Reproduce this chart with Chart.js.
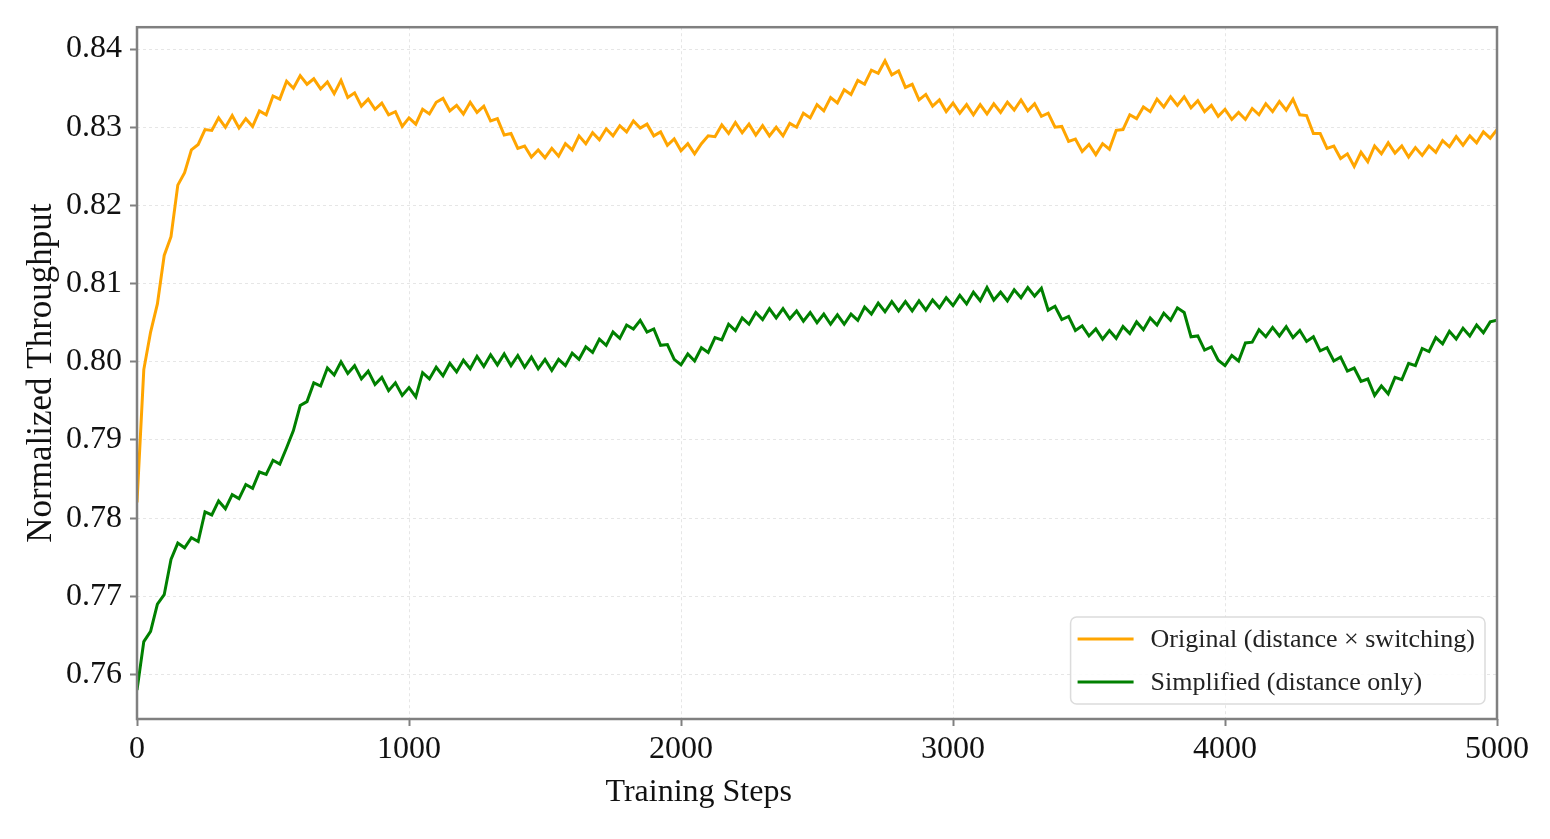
<!DOCTYPE html>
<html>
<head>
<meta charset="utf-8">
<title>Normalized Throughput vs Training Steps</title>
<script src="https://cdn.jsdelivr.net/npm/chart.js@4.4.1/dist/chart.umd.min.js"></script>
<style>
  html, body { margin: 0; padding: 0; background: #ffffff; }
  canvas { display: block; }
</style>
</head>
<body>
<canvas id="throughputChart" width="1550" height="839"></canvas>
<script>
// sampling interval of the training curves (steps)
const STEP = 25;

// Original reward (distance x switching), one value every 25 steps from 0 to 5000
const originalValues = [
  0.7820, 0.7990, 0.8038, 0.8074, 0.8136, 0.8160, 0.8226, 0.8242, 0.8271, 0.8278,
  0.8297, 0.8296, 0.8312, 0.8300, 0.8315, 0.8299, 0.8311, 0.8301, 0.8321, 0.8316,
  0.8340, 0.8336, 0.8359, 0.8350, 0.8366, 0.8355, 0.8362, 0.8349, 0.8358, 0.8343,
  0.8360, 0.8338, 0.8344, 0.8327, 0.8336, 0.8323, 0.8331, 0.8316, 0.8320, 0.8301,
  0.8312, 0.8304, 0.8323, 0.8317, 0.8332, 0.8337, 0.8321, 0.8328, 0.8317, 0.8332,
  0.8319, 0.8327, 0.8308, 0.8311, 0.8290, 0.8292, 0.8273, 0.8276, 0.8262, 0.8271,
  0.8261, 0.8273, 0.8263, 0.8279, 0.8271, 0.8289, 0.8279, 0.8293, 0.8284, 0.8298,
  0.8289, 0.8302, 0.8294, 0.8308, 0.8299, 0.8304, 0.8289, 0.8294, 0.8277, 0.8285,
  0.8270, 0.8279, 0.8266, 0.8279, 0.8289, 0.8288, 0.8303, 0.8292, 0.8306, 0.8293,
  0.8304, 0.8290, 0.8302, 0.8289, 0.8300, 0.8289, 0.8305, 0.8300, 0.8318, 0.8312,
  0.8329, 0.8321, 0.8338, 0.8331, 0.8348, 0.8342, 0.8360, 0.8355, 0.8373, 0.8369,
  0.8385, 0.8367, 0.8372, 0.8351, 0.8355, 0.8335, 0.8342, 0.8327, 0.8335, 0.8320,
  0.8331, 0.8318, 0.8329, 0.8316, 0.8329, 0.8317, 0.8330, 0.8319, 0.8332, 0.8322,
  0.8335, 0.8321, 0.8330, 0.8314, 0.8318, 0.8300, 0.8301, 0.8282, 0.8285, 0.8269,
  0.8278, 0.8265, 0.8279, 0.8272, 0.8296, 0.8297, 0.8316, 0.8311, 0.8326, 0.8320,
  0.8336, 0.8326, 0.8339, 0.8328, 0.8339, 0.8325, 0.8334, 0.8320, 0.8328, 0.8314,
  0.8323, 0.8310, 0.8319, 0.8310, 0.8324, 0.8316, 0.8330, 0.8320, 0.8333, 0.8322,
  0.8336, 0.8316, 0.8315, 0.8292, 0.8292, 0.8273, 0.8276, 0.8260, 0.8266, 0.8250,
  0.8268, 0.8256, 0.8276, 0.8266, 0.8280, 0.8267, 0.8276, 0.8262, 0.8274, 0.8264,
  0.8276, 0.8268, 0.8283, 0.8275, 0.8288, 0.8277, 0.8289, 0.8280, 0.8294, 0.8286,
  0.8297
];

// Simplified reward (distance only), same sampling
const simplifiedValues = [
  0.7580, 0.7642, 0.7655, 0.7690, 0.7702, 0.7747, 0.7768, 0.7762, 0.7775, 0.7770,
  0.7808, 0.7804, 0.7822, 0.7812, 0.7830, 0.7825, 0.7843, 0.7838, 0.7859, 0.7856,
  0.7874, 0.7869, 0.7890, 0.7912, 0.7944, 0.7949, 0.7973, 0.7969, 0.7992, 0.7983,
  0.8000, 0.7985, 0.7995, 0.7978, 0.7988, 0.7971, 0.7980, 0.7963, 0.7973, 0.7957,
  0.7967, 0.7955, 0.7986, 0.7978, 0.7993, 0.7982, 0.7998, 0.7987, 0.8002, 0.7991,
  0.8007, 0.7994, 0.8009, 0.7996, 0.8010, 0.7995, 0.8008, 0.7993, 0.8006, 0.7991,
  0.8003, 0.7989, 0.8003, 0.7995, 0.8011, 0.8003, 0.8019, 0.8012, 0.8029, 0.8021,
  0.8038, 0.8030, 0.8047, 0.8042, 0.8053, 0.8038, 0.8042, 0.8021, 0.8022, 0.8003,
  0.7996, 0.8010, 0.8001, 0.8018, 0.8012, 0.8031, 0.8028, 0.8048, 0.8040, 0.8056,
  0.8048, 0.8063, 0.8054, 0.8068, 0.8056, 0.8068, 0.8055, 0.8065, 0.8052, 0.8063,
  0.8050, 0.8061, 0.8048, 0.8060, 0.8048, 0.8061, 0.8053, 0.8070, 0.8061, 0.8075,
  0.8064, 0.8077, 0.8065, 0.8077, 0.8065, 0.8078, 0.8066, 0.8079, 0.8069, 0.8082,
  0.8072, 0.8085, 0.8074, 0.8089, 0.8078, 0.8095, 0.8079, 0.8089, 0.8078, 0.8092,
  0.8082, 0.8095, 0.8084, 0.8094, 0.8066, 0.8071, 0.8054, 0.8058, 0.8040, 0.8046,
  0.8033, 0.8042, 0.8029, 0.8040, 0.8030, 0.8045, 0.8036, 0.8051, 0.8041, 0.8056,
  0.8047, 0.8062, 0.8053, 0.8069, 0.8063, 0.8032, 0.8033, 0.8015, 0.8019, 0.8002,
  0.7995, 0.8008, 0.8001, 0.8024, 0.8025, 0.8041, 0.8032, 0.8044, 0.8033, 0.8045,
  0.8031, 0.8040, 0.8026, 0.8032, 0.8014, 0.8018, 0.8001, 0.8006, 0.7988, 0.7992,
  0.7975, 0.7978, 0.7957, 0.7969, 0.7959, 0.7980, 0.7977, 0.7998, 0.7995, 0.8017,
  0.8013, 0.8031, 0.8023, 0.8039, 0.8029, 0.8043, 0.8033, 0.8047, 0.8037, 0.8051,
  0.8053
];

// axis ticks
const xTicks = [0, 1000, 2000, 3000, 4000, 5000];
const yTicks = [0.76, 0.77, 0.78, 0.79, 0.80, 0.81, 0.82, 0.83, 0.84];

const seriesLabels = ["Original (distance \u00d7 switching)", "Simplified (distance only)"];
const seriesColors = ["#ffa500", "#008000"];
const xTitle = "Training Steps";

const FONT = "'Liberation Serif', 'Times New Roman', serif";

// turn a value list into {x, y} points on the step grid
const toPoints = (values) => values.map((v, i) => ({ x: i * STEP, y: v }));

// box around the plotting area (matplotlib style frame)
const framePlugin = {
  id: "frame",
  afterDatasetsDraw(chart) {
    const { ctx, chartArea: a } = chart;
    ctx.save();
    ctx.strokeStyle = "#808080";
    ctx.lineWidth = 2.5;
    ctx.strokeRect(a.left, a.top, a.right - a.left, a.bottom - a.top);
    ctx.restore();
  },
};

// x axis title sits a bit left of the plot centre in the original figure
const xTitlePlugin = {
  id: "xTitle",
  afterDraw(chart) {
    const { ctx, chartArea: a } = chart;
    ctx.save();
    ctx.font = "32px " + FONT;
    ctx.fillStyle = "#111111";
    ctx.textAlign = "center";
    ctx.textBaseline = "middle";
    ctx.fillText(xTitle, a.left + (a.right - a.left) * 0.413, a.bottom + 74);
    ctx.restore();
  },
};

// legend box in the lower right corner of the plot
const legendPlugin = {
  id: "cornerLegend",
  afterDraw(chart) {
    const { ctx, chartArea: a } = chart;
    const sets = chart.data.datasets;
    ctx.save();
    ctx.font = "26px " + FONT;
    let textW = 0;
    sets.forEach((ds) => { textW = Math.max(textW, ctx.measureText(ds.label).width); });
    const padL = 7, lineLen = 56, gap = 17, padR = 10, rowH = 43, padV = 22;
    const w = padL + lineLen + gap + textW + padR;
    const h = padV * 2 + rowH * (sets.length - 1);
    const right = a.right - 12, bottom = a.bottom - 15;
    const left = right - w, top = bottom - h;

    ctx.beginPath();
    ctx.roundRect(left, top, w, h, 6);
    ctx.fillStyle = "rgba(255,255,255,0.85)";
    ctx.fill();
    ctx.strokeStyle = "#dcdcdc";
    ctx.lineWidth = 1.5;
    ctx.stroke();

    sets.forEach((ds, i) => {
      const y = top + padV + i * rowH;
      ctx.beginPath();
      ctx.moveTo(left + padL, y);
      ctx.lineTo(left + padL + lineLen, y);
      ctx.strokeStyle = ds.borderColor;
      ctx.lineWidth = 3;
      ctx.stroke();
      ctx.fillStyle = "#222222";
      ctx.textBaseline = "middle";
      ctx.textAlign = "left";
      ctx.fillText(ds.label, left + padL + lineLen + gap, y + 1);
    });
    ctx.restore();
  },
};

const ctx = document.getElementById("throughputChart").getContext("2d");

new Chart(ctx, {
  type: "line",
  data: {
    datasets: [
      {
        label: seriesLabels[0],
        data: toPoints(originalValues),
        borderColor: seriesColors[0],
        borderWidth: 3,
        pointRadius: 0,
        fill: false,
        tension: 0,
      },
      {
        label: seriesLabels[1],
        data: toPoints(simplifiedValues),
        borderColor: seriesColors[1],
        borderWidth: 3,
        pointRadius: 0,
        fill: false,
        tension: 0,
      },
    ],
  },
  options: {
    responsive: false,
    animation: false,
    devicePixelRatio: 1,
    layout: {
      padding: { top: 24, right: 53, bottom: 0, left: 0 },
    },
    scales: {
      x: {
        type: "linear",
        min: 0,
        max: 5000,
        afterBuildTicks: (scale) => { scale.ticks = xTicks.map((v) => ({ value: v })); },
        afterFit: (scale) => { scale.height = 120; },
        ticks: {
          color: "#111111",
          font: { family: FONT, size: 32 },
          padding: 4,
          maxRotation: 0,
          autoSkip: false,
          callback: (v) => String(v),
        },
        grid: {
          color: "#e6e6e6",
          lineWidth: 1,
          tickColor: "#808080",
          tickLength: 7,
          tickWidth: 2,
        },
        border: { display: false, dash: [3, 3] },
        title: { display: false },
      },
      y: {
        type: "linear",
        min: 0.7543,
        max: 0.8428,
        afterBuildTicks: (scale) => { scale.ticks = yTicks.map((v) => ({ value: v })); },
        afterFit: (scale) => { scale.width = 137; },
        ticks: {
          color: "#111111",
          font: { family: FONT, size: 32 },
          padding: 8,
          callback: (v) => v.toFixed(2),
        },
        grid: {
          color: "#e6e6e6",
          lineWidth: 1,
          tickColor: "#808080",
          tickLength: 7,
          tickWidth: 2,
        },
        border: { display: false, dash: [3, 3] },
        title: {
          display: true,
          text: "Normalized Throughput",
          color: "#111111",
          font: { family: FONT, size: 35 },
          padding: { top: 21, bottom: 0 },
        },
      },
    },
    plugins: {
      legend: { display: false },
      tooltip: { enabled: false },
    },
  },
  plugins: [framePlugin, xTitlePlugin, legendPlugin],
});
</script>
</body>
</html>
